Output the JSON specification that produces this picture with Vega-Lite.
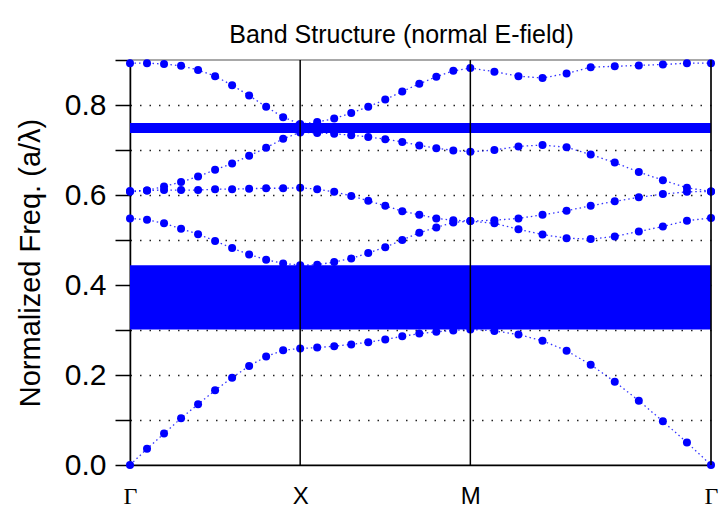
{
  "$schema": "https://vega.github.io/schema/vega-lite/v6.json",
  "width": 581,
  "height": 405,
  "autosize": {"type": "none"},
  "padding": {"left": 130, "top": 60, "right": 8, "bottom": 60},
  "background": "white",
  "config": {
    "view": {"stroke": "#8c8c8c", "strokeWidth": 1.5},
    "font": "Liberation Sans"
  },
  "title": {
    "text": "Band Structure (normal E-field)",
    "font": "Liberation Sans",
    "fontSize": 25,
    "fontWeight": "normal",
    "color": "black",
    "anchor": "middle",
    "frame": "group",
    "dx": -19,
    "offset": -23,
    "baseline": "alphabetic"
  },
  "datasets": {
    "bands": [
      {"band": 1, "k": 0, "f": 0}, {"band": 1, "k": 0.05, "f": 0.036}, {"band": 1, "k": 0.1, "f": 0.07}, {"band": 1, "k": 0.15, "f": 0.104}, {"band": 1, "k": 0.2, "f": 0.135}, {"band": 1, "k": 0.25, "f": 0.166}, {"band": 1, "k": 0.3, "f": 0.194}, {"band": 1, "k": 0.35, "f": 0.22}, {"band": 1, "k": 0.4, "f": 0.241}, {"band": 1, "k": 0.45, "f": 0.255}, {"band": 1, "k": 0.5, "f": 0.259},
      {"band": 1, "k": 0.55, "f": 0.261}, {"band": 1, "k": 0.6, "f": 0.264}, {"band": 1, "k": 0.65, "f": 0.268}, {"band": 1, "k": 0.7, "f": 0.273}, {"band": 1, "k": 0.75, "f": 0.279}, {"band": 1, "k": 0.8, "f": 0.286}, {"band": 1, "k": 0.85, "f": 0.292}, {"band": 1, "k": 0.9, "f": 0.296}, {"band": 1, "k": 0.95, "f": 0.299}, {"band": 1, "k": 1.0, "f": 0.301},
      {"band": 1, "k": 1.0707, "f": 0.298}, {"band": 1, "k": 1.1414, "f": 0.29}, {"band": 1, "k": 1.2121, "f": 0.276}, {"band": 1, "k": 1.2828, "f": 0.254}, {"band": 1, "k": 1.3536, "f": 0.223}, {"band": 1, "k": 1.4243, "f": 0.185}, {"band": 1, "k": 1.495, "f": 0.143}, {"band": 1, "k": 1.5657, "f": 0.097}, {"band": 1, "k": 1.6364, "f": 0.05}, {"band": 1, "k": 1.7071, "f": 0},

      {"band": 2, "k": 0, "f": 0.548}, {"band": 2, "k": 0.05, "f": 0.545}, {"band": 2, "k": 0.1, "f": 0.537}, {"band": 2, "k": 0.15, "f": 0.525}, {"band": 2, "k": 0.2, "f": 0.513}, {"band": 2, "k": 0.25, "f": 0.498}, {"band": 2, "k": 0.3, "f": 0.482}, {"band": 2, "k": 0.35, "f": 0.468}, {"band": 2, "k": 0.4, "f": 0.456}, {"band": 2, "k": 0.45, "f": 0.448}, {"band": 2, "k": 0.5, "f": 0.444},
      {"band": 2, "k": 0.55, "f": 0.445}, {"band": 2, "k": 0.6, "f": 0.451}, {"band": 2, "k": 0.65, "f": 0.459}, {"band": 2, "k": 0.7, "f": 0.471}, {"band": 2, "k": 0.75, "f": 0.484}, {"band": 2, "k": 0.8, "f": 0.5}, {"band": 2, "k": 0.85, "f": 0.516}, {"band": 2, "k": 0.9, "f": 0.528}, {"band": 2, "k": 0.95, "f": 0.539}, {"band": 2, "k": 1.0, "f": 0.542},
      {"band": 2, "k": 1.0707, "f": 0.537}, {"band": 2, "k": 1.1414, "f": 0.524}, {"band": 2, "k": 1.2121, "f": 0.512}, {"band": 2, "k": 1.2828, "f": 0.504}, {"band": 2, "k": 1.3536, "f": 0.502}, {"band": 2, "k": 1.4243, "f": 0.508}, {"band": 2, "k": 1.495, "f": 0.519}, {"band": 2, "k": 1.5657, "f": 0.53}, {"band": 2, "k": 1.6364, "f": 0.543}, {"band": 2, "k": 1.7071, "f": 0.549},

      {"band": 3, "k": 0, "f": 0.607}, {"band": 3, "k": 0.05, "f": 0.61}, {"band": 3, "k": 0.1, "f": 0.611}, {"band": 3, "k": 0.15, "f": 0.611}, {"band": 3, "k": 0.2, "f": 0.611}, {"band": 3, "k": 0.25, "f": 0.613}, {"band": 3, "k": 0.3, "f": 0.613}, {"band": 3, "k": 0.35, "f": 0.614}, {"band": 3, "k": 0.4, "f": 0.615}, {"band": 3, "k": 0.45, "f": 0.615}, {"band": 3, "k": 0.5, "f": 0.616},
      {"band": 3, "k": 0.55, "f": 0.613}, {"band": 3, "k": 0.6, "f": 0.607}, {"band": 3, "k": 0.65, "f": 0.598}, {"band": 3, "k": 0.7, "f": 0.587}, {"band": 3, "k": 0.75, "f": 0.576}, {"band": 3, "k": 0.8, "f": 0.564}, {"band": 3, "k": 0.85, "f": 0.556}, {"band": 3, "k": 0.9, "f": 0.548}, {"band": 3, "k": 0.95, "f": 0.544}, {"band": 3, "k": 1.0, "f": 0.542},
      {"band": 3, "k": 1.0707, "f": 0.544}, {"band": 3, "k": 1.1414, "f": 0.548}, {"band": 3, "k": 1.2121, "f": 0.556}, {"band": 3, "k": 1.2828, "f": 0.565}, {"band": 3, "k": 1.3536, "f": 0.576}, {"band": 3, "k": 1.4243, "f": 0.586}, {"band": 3, "k": 1.495, "f": 0.595}, {"band": 3, "k": 1.5657, "f": 0.602}, {"band": 3, "k": 1.6364, "f": 0.607}, {"band": 3, "k": 1.7071, "f": 0.608},

      {"band": 4, "k": 0, "f": 0.609}, {"band": 4, "k": 0.05, "f": 0.61}, {"band": 4, "k": 0.1, "f": 0.619}, {"band": 4, "k": 0.15, "f": 0.629}, {"band": 4, "k": 0.2, "f": 0.641}, {"band": 4, "k": 0.25, "f": 0.656}, {"band": 4, "k": 0.3, "f": 0.67}, {"band": 4, "k": 0.35, "f": 0.687}, {"band": 4, "k": 0.4, "f": 0.705}, {"band": 4, "k": 0.45, "f": 0.725}, {"band": 4, "k": 0.5, "f": 0.739},
      {"band": 4, "k": 0.55, "f": 0.738}, {"band": 4, "k": 0.6, "f": 0.736}, {"band": 4, "k": 0.65, "f": 0.733}, {"band": 4, "k": 0.7, "f": 0.729}, {"band": 4, "k": 0.75, "f": 0.724}, {"band": 4, "k": 0.8, "f": 0.718}, {"band": 4, "k": 0.85, "f": 0.71}, {"band": 4, "k": 0.9, "f": 0.704}, {"band": 4, "k": 0.95, "f": 0.699}, {"band": 4, "k": 1.0, "f": 0.696},
      {"band": 4, "k": 1.0707, "f": 0.7}, {"band": 4, "k": 1.1414, "f": 0.708}, {"band": 4, "k": 1.2121, "f": 0.711}, {"band": 4, "k": 1.2828, "f": 0.706}, {"band": 4, "k": 1.3536, "f": 0.69}, {"band": 4, "k": 1.4243, "f": 0.672}, {"band": 4, "k": 1.495, "f": 0.651}, {"band": 4, "k": 1.5657, "f": 0.633}, {"band": 4, "k": 1.6364, "f": 0.616}, {"band": 4, "k": 1.7071, "f": 0.608},

      {"band": 5, "k": 0, "f": 0.893}, {"band": 5, "k": 0.05, "f": 0.893}, {"band": 5, "k": 0.1, "f": 0.891}, {"band": 5, "k": 0.15, "f": 0.887}, {"band": 5, "k": 0.2, "f": 0.878}, {"band": 5, "k": 0.25, "f": 0.864}, {"band": 5, "k": 0.3, "f": 0.844}, {"band": 5, "k": 0.35, "f": 0.821}, {"band": 5, "k": 0.4, "f": 0.796}, {"band": 5, "k": 0.45, "f": 0.773}, {"band": 5, "k": 0.5, "f": 0.758},
      {"band": 5, "k": 0.55, "f": 0.762}, {"band": 5, "k": 0.6, "f": 0.77}, {"band": 5, "k": 0.65, "f": 0.782}, {"band": 5, "k": 0.7, "f": 0.796}, {"band": 5, "k": 0.75, "f": 0.812}, {"band": 5, "k": 0.8, "f": 0.83}, {"band": 5, "k": 0.85, "f": 0.847}, {"band": 5, "k": 0.9, "f": 0.863}, {"band": 5, "k": 0.95, "f": 0.876}, {"band": 5, "k": 1.0, "f": 0.882},
      {"band": 5, "k": 1.0707, "f": 0.874}, {"band": 5, "k": 1.1414, "f": 0.864}, {"band": 5, "k": 1.2121, "f": 0.86}, {"band": 5, "k": 1.2828, "f": 0.87}, {"band": 5, "k": 1.3536, "f": 0.884}, {"band": 5, "k": 1.4243, "f": 0.886}, {"band": 5, "k": 1.495, "f": 0.888}, {"band": 5, "k": 1.5657, "f": 0.89}, {"band": 5, "k": 1.6364, "f": 0.893}, {"band": 5, "k": 1.7071, "f": 0.893}
    ],
    "gaps": [
      {"k": 0, "k2": 1.7071, "f": 0.301, "f2": 0.444},
      {"k": 0, "k2": 1.7071, "f": 0.738, "f2": 0.76}
    ],
    "symmetryPoints": [
      {"k": 0.5, "point": "X"},
      {"k": 1.0, "point": "M"},
      {"k": 1.7071, "point": "Γ"}
    ]
  },
  "encoding": {
    "x": {
      "field": "k",
      "type": "quantitative",
      "title": null,
      "scale": {"domain": [0, 1.7071], "nice": false, "zero": false},
      "axis": {
        "title": null,
        "values": [0, 0.5, 1.0, 1.7071],
        "labelExpr": "datum.value < 0.25 ? 'Γ' : datum.value < 0.75 ? 'X' : datum.value < 1.3 ? 'M' : 'Γ'",
        "ticks": false,
        "grid": false,
        "domainColor": "black",
        "domainWidth": 1.5,
        "labelColor": "black",
        "labelFontSize": 24,
        "labelFont": {"condition": {"test": "datum.value < 0.25 || datum.value > 1.3", "value": "Liberation Serif"}, "value": "Liberation Sans"},
        "labelPadding": 19,
        "labelFlush": false,
        "labelOverlap": false
      }
    }
  },
  "layer": [
    {
      "data": {"name": "gaps"},
      "mark": {"type": "rect", "color": "#0000ff", "opacity": 1},
      "encoding": {
        "x2": {"field": "k2"},
        "y": {
          "field": "f",
          "type": "quantitative",
          "title": "Normalized Freq. (a/λ)",
          "scale": {"domain": [0, 0.9], "nice": false, "zero": false},
          "axis": {
            "title": "Normalized Freq. (a/λ)",
            "titleFont": "Liberation Sans",
            "titleFontSize": 29,
            "titleFontWeight": "normal",
            "titleColor": "black",
            "titlePadding": 19,
            "values": [0, 0.05, 0.1, 0.15, 0.2, 0.25, 0.3, 0.35, 0.4, 0.45, 0.5, 0.55, 0.6, 0.65, 0.7, 0.75, 0.8, 0.85, 0.9],
            "labelExpr": "round(datum.value * 20) % 4 == 0 ? format(datum.value, '.1f') : ''",
            "labelFontSize": 30,
            "labelColor": "black",
            "labelPadding": 9,
            "labelOverlap": false,
            "labelFlush": false,
            "domainColor": "black",
            "domainWidth": 1.5,
            "tickColor": "black",
            "tickWidth": 1.5,
            "tickSize": {"condition": {"test": "round(datum.value * 20) % 2 == 0", "value": 15}, "value": 8},
            "grid": true,
            "gridColor": "#222222",
            "gridWidth": 1.3,
            "gridDash": [1.5, 8],
            "gridOpacity": {"condition": {"test": "round(datum.value * 20) % 2 == 0 && datum.value > 0.01 && datum.value < 0.89", "value": 1}, "value": 0}
          }
        },
        "y2": {"field": "f2"}
      }
    },
    {
      "data": {"name": "bands"},
      "mark": {"type": "line", "color": "#0000ff", "strokeWidth": 1.3, "strokeDash": [1.5, 3], "opacity": 0.8},
      "encoding": {
        "y": {"field": "f", "type": "quantitative", "title": "Normalized Freq. (a/λ)"},
        "detail": {"field": "band"},
        "order": {"field": "k"}
      }
    },
    {
      "data": {"name": "bands"},
      "mark": {"type": "circle", "color": "#0000ff", "size": 64, "opacity": 1},
      "encoding": {
        "y": {"field": "f", "type": "quantitative", "title": "Normalized Freq. (a/λ)"}
      }
    },
    {
      "data": {"name": "symmetryPoints"},
      "mark": {"type": "rule", "color": "black", "strokeWidth": 1.5},
      "encoding": {}
    }
  ]
}
